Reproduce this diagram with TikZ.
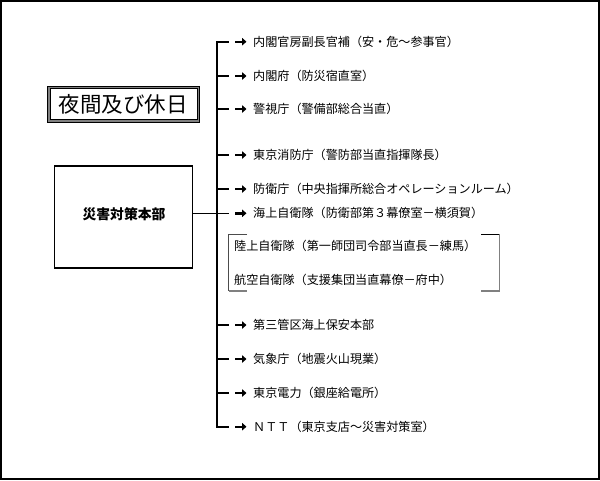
\documentclass[tikz,border=0pt]{standalone}
\usepackage{fontspec}
\usetikzlibrary{arrows.meta}
\newfontfamily\jp{Noto Sans CJK JP}
\begin{document}
\begin{tikzpicture}[x=1pt,y=-1pt,
  lbl/.style={anchor=west,inner sep=0pt,font=\jp\fontsize{12.1}{12.5}\selectfont},
  trunkline/.style={line width=1.7pt},
  tickline/.style={line width=1.6pt},
  arr/.style={line width=2.4pt,-{Triangle[length=4.5pt,width=7.5pt]}},
  brk/.style={draw=gray,line width=1.6pt},
  brkthin/.style={draw=black!70,line width=0.8pt}]
\useasboundingbox (0,0) rectangle (600,480);
\draw[line width=1.6pt] (0.8,0.8) rectangle (599.2,479.2);
% title box
\draw[gray,line width=2.6pt] (48.5,87) rectangle (198.5,121);
\draw[black,line width=0.5pt] (47.3,85.8) rectangle (199.7,122.2);
\draw[black,line width=0.7pt] (50,88.5) rectangle (197,119.5);
\node[inner sep=0pt,font=\jp\fontsize{21.5}{22}\selectfont] (title) at (123,104) {夜間及び休日};
% main box
\node[draw,line width=1.1pt,minimum width=138pt,minimum height=102pt,inner sep=0pt] (hq) at (123.4,217) {};
\node[inner sep=0pt,font=\jp\bfseries\fontsize{13.8}{14}\selectfont] (hqt) at (124,214) {災害対策本部};
% rows
\foreach \i/\yy in {1/41.7,2/76,3/109,4/155,5/189,6/213.3,7/325,8/359,9/393,10/426.7}{
  \coordinate (t\i) at (217,\yy);
}
\node[lbl] (n1) at (253,41.7) {内閣官房副長官補（安・危～参事官）};
\node[lbl] (n2) at (253,76) {内閣府（防災宿直室）};
\node[lbl] (n3) at (253,109) {警視庁（警備部総合当直）};
\node[lbl] (n4) at (253,155) {東京消防庁（警防部当直指揮隊長）};
\node[lbl] (n5) at (253,189) {防衛庁（中央指揮所総合オペレーションルーム）};
\node[lbl] (n6) at (253,213.3) {海上自衛隊（防衛部第３幕僚室－横須賀）};
\node[lbl] (n7) at (253,325) {第三管区海上保安本部};
\node[lbl] (n8) at (253,359) {気象庁（地震火山現業）};
\node[lbl] (n9) at (253,393) {東京電力（銀座給電所）};
\node[lbl] (n10) at (253,426.7) {ＮＴＴ（東京支店～災害対策室）};
\node[lbl] (g1) at (234,246) {陸上自衛隊（第一師団司令部当直長－練馬）};
\node[lbl] (g2) at (234,280) {航空自衛隊（支援集団当直幕僚－府中）};
% trunk
\draw[trunkline] (t1) -- (t10);
\foreach \i in {1,...,10}{
  \draw[tickline] ([xshift=-0.85pt]t\i) -- ++(12.8,0);
  \draw[arr] ([xshift=-18pt]n\i.west) -- ([xshift=-6.5pt]n\i.west);
}
\draw[line width=1pt] (hq.east |- t6) -- (t6);
% bracket
\coordinate (bl1) at (228.5,234);
\coordinate (bl2) at (228.5,291);
\coordinate (br1) at (499.4,234);
\coordinate (br2) at (499.4,291);
\draw[brkthin] (247,234) -- (bl1) -- (bl2);
\draw[brk] (bl2) -- (247,291);
\draw[black,line width=0.9pt] (481,234) -- (br1);
\draw[brk] (br1) -- (br2) -- (481,291);
\end{tikzpicture}
\end{document}
